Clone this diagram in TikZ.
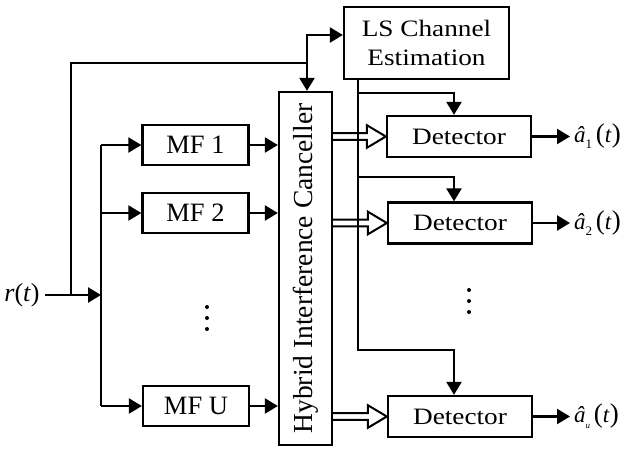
\documentclass[tikz,border=0pt]{standalone}
\usepackage{fontspec}
\setmainfont{Liberation Serif}
\newfontfamily\wfont[FakeStretch=1.16]{Liberation Serif}
\usetikzlibrary{arrows.meta,calc}
\begin{document}
\begin{tikzpicture}[x=1pt,y=-1pt,line width=2.3pt,
  ar/.style={-{Triangle[length=13pt,width=15pt]}},
  mfbox/.style={draw,line width=2.3pt,minimum width=106pt,minimum height=40pt,inner sep=0pt,font=\fontsize{26.5}{30}\selectfont},
  detbox/.style={draw,line width=2.3pt,minimum width=144pt,minimum height=41pt,inner sep=0pt,font=\wfont\fontsize{23.5}{28}\selectfont},
  outlbl/.style={anchor=west,inner sep=0pt,font=\fontsize{23}{26}\selectfont},
  hollow/.style={line width=2pt,line join=miter},
  dot/.style={fill=black}
]
\useasboundingbox (0,0) rectangle (620,448);
% input
\node[inner sep=0pt,font=\fontsize{26}{30}\selectfont] (r) at (22,295) {\textit{r}(\textit{t})};
% matched filters
\node[mfbox] (mf1) at (195.5,145) {MF 1};
\node[mfbox] (mf2) at (195.5,213) {MF 2};
\node[mfbox] (mfu) at (196,406) {MF U};
% canceller
\node[draw,line width=2.3pt,minimum width=53pt,minimum height=353pt,inner sep=0pt] (ic) at (305.5,268.5) {};
\node[rotate=90,inner sep=0pt,font=\fontsize{27.5}{30}\selectfont] (ict) at (ic.center) {Hybrid Interference Canceller};
% LS
\node[draw,line width=2.3pt,minimum width=165pt,minimum height=72pt,inner sep=0pt,align=center,font=\wfont\fontsize{23.5}{29}\selectfont] (ls) at (426.5,43) {LS Channel\\Estimation};
% detectors
\node[detbox] (d1) at (459,136.5) {Detector};
\node[detbox] (d2) at (460,223) {Detector};
\node[detbox] (du) at (460,416.5) {Detector};
% outputs
\node[outlbl] (o1) at (573,136.5) {\textit{â}\raisebox{-0.25em}{\fontsize{13}{13}\selectfont 1}\,{\fontsize{27}{27}\selectfont(}\textit{t}{\fontsize{27}{27}\selectfont)}};
\node[outlbl] (o2) at (573,223) {\textit{â}\raisebox{-0.25em}{\fontsize{13}{13}\selectfont 2}\,{\fontsize{27}{27}\selectfont(}\textit{t}{\fontsize{27}{27}\selectfont)}};
\node[outlbl] (ou) at (573,416.5) {\textit{â}\raisebox{-0.25em}{\fontsize{9}{9}\selectfont\textit{u}}\,{\fontsize{27}{27}\selectfont(}\textit{t}{\fontsize{27}{27}\selectfont)}};
% coordinates
\coordinate (bus) at (101,295);
\coordinate (sp) at (71,295);
\coordinate (top) at (307,63);
\coordinate (lsb) at ($(ls.south west)+(15,0)$);
\coordinate (col) at (454,0);
% input connections
\draw[ar] ($(r.east)+(4,0)$) -- (bus);
\draw (mf1.west -| bus) -- (mfu.west -| bus);
\draw[ar] (mf1.west -| bus) -- (mf1.west);
\draw[ar] (mf2.west -| bus) -- (mf2.west);
\draw[ar] (mfu.west -| bus) -- (mfu.west);
\draw[ar] (mf1.east) -- (mf1.east -| ic.west);
\draw[ar] (mf2.east) -- (mf2.east -| ic.west);
\draw[ar] (mfu.east) -- (mfu.east -| ic.west);
\draw (sp) |- (top);
\draw[ar] (top) -- (top |- ic.north);
\draw[ar] (top) |- ($(ls.west)+(0,-8)$);
% LS to detectors
\draw[ar] (lsb) |- (col |- 0,350) -- (col |- du.north);
\draw[ar] (lsb |- 0,93) -| (col |- d1.north);
\draw[ar] (lsb |- 0,177) -| (col |- d2.north);
% hollow arrows
\foreach \d in {d1,d2,du}{
  \draw[hollow] ($(ic.east |- \d.west)+(0,3.4)$) -- ($(\d.west)+(-19,3.4)$) -- ($(\d.west)+(-19,11.3)$) -- (\d.west) -- ($(\d.west)+(-19,-11.3)$) -- ($(\d.west)+(-19,-3.4)$) -- ($(ic.east |- \d.west)+(0,-3.4)$);
}
% outputs arrows
\draw[ar] (d1.east) -- ($(o1.west)+(-3,0)$);
\draw[ar] (d2.east) -- ($(o2.west)+(-3,0)$);
\draw[ar] (du.east) -- ($(ou.west)+(-3,0)$);
% dots
\fill[dot] (207,307) circle (2);
\fill[dot] (207,318) circle (2);
\fill[dot] (207,329) circle (2);
\fill[dot] (469,290) circle (2);
\fill[dot] (469,301) circle (2);
\fill[dot] (469,312) circle (2);
\end{tikzpicture}
\end{document}
